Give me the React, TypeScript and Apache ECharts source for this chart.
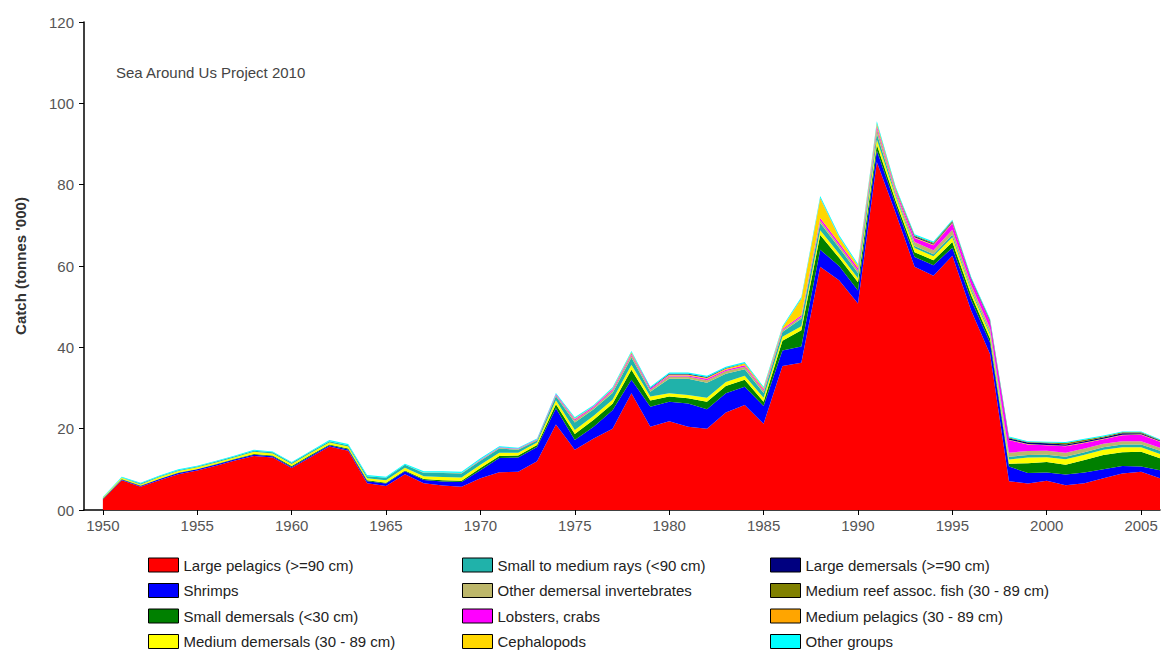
import React, { useEffect, useRef } from "react";
import * as echarts from "echarts";

const years: number[] = [];
for (let y = 1950; y <= 2006; y++) years.push(y);
const axisYears: string[] = ["1949", ...years.map(String)];

const xTickValues = [1950, 1955, 1960, 1965, 1970, 1975, 1980, 1985, 1990, 1995, 2000, 2005];

const largePelagics = [
  2.6, 7.3, 5.7, 7.3, 8.8, 9.7, 10.9, 12.2, 13.3, 12.9,
  10.3, 13.0, 15.6, 14.6, 6.6, 5.9, 8.8, 6.6, 6.0, 5.7,
  7.8, 9.3, 9.4, 12.0, 21.0, 14.8, 17.6, 20.0, 28.7, 20.5,
  21.8, 20.5, 20.0, 24.0, 25.8, 21.2, 35.4, 36.2, 59.8, 56.5,
  50.8, 85.6, 73.0, 59.8, 57.6, 62.5, 49.0, 38.3, 7.1, 6.5,
  7.2, 6.1, 6.6, 7.8, 9.0, 9.4, 7.8,
];
const shrimps = [
  0.1, 0.2, 0.2, 0.3, 0.3, 0.3, 0.3, 0.3, 0.3, 0.3,
  0.3, 0.3, 0.3, 0.3, 0.5, 0.6, 0.7, 0.8, 1.0, 1.2,
  2.0, 3.5, 3.5, 3.5, 4.0, 2.4, 2.9, 4.5, 3.3, 4.9,
  4.8, 5.7, 4.8, 4.7, 4.5, 4.4, 3.8, 4.0, 4.2, 3.5,
  3.2, 2.8, 2.0, 2.4, 2.6, 2.0, 2.6, 2.8, 3.6, 2.6,
  2.0, 2.6, 2.6, 2.2, 1.8, 1.3, 2.0,
];
const smallDemersals = [
  0.1, 0.1, 0.1, 0.1, 0.1, 0.1, 0.1, 0.1, 0.2, 0.2,
  0.2, 0.2, 0.2, 0.2, 0.2, 0.2, 0.2, 0.2, 0.3, 0.3,
  0.5, 0.5, 0.5, 0.5, 1.0, 1.5, 1.7, 1.6, 2.5, 1.5,
  1.3, 1.3, 1.8, 1.8, 1.7, 1.0, 2.4, 4.0, 3.6, 2.0,
  2.0, 1.4, 1.0, 1.2, 1.2, 1.4, 1.2, 1.0, 0.7, 2.4,
  2.6, 2.4, 3.1, 3.5, 3.4, 3.6, 2.9,
];
const mediumDemersals = [
  0.2, 0.3, 0.3, 0.4, 0.4, 0.4, 0.4, 0.4, 0.5, 0.5,
  0.5, 0.5, 0.5, 0.5, 0.5, 0.6, 0.7, 0.7, 0.8, 0.8,
  0.8, 0.8, 0.7, 0.6, 1.0, 1.0, 1.0, 1.0, 1.2, 1.0,
  0.8, 0.8, 1.0, 1.0, 1.0, 1.0, 1.0, 1.0, 1.2, 1.0,
  1.0, 1.3, 1.0, 1.0, 1.0, 1.2, 1.0, 1.0, 1.0, 1.4,
  1.2, 1.4, 1.3, 1.3, 1.2, 1.1, 1.1,
];
const smallMediumRays = [
  0.1, 0.1, 0.2, 0.2, 0.2, 0.2, 0.2, 0.2, 0.3, 0.3,
  0.3, 0.3, 0.3, 0.3, 0.5, 0.6, 0.7, 0.8, 1.0, 1.0,
  1.0, 1.0, 0.7, 0.5, 1.0, 1.8, 1.6, 1.7, 1.8, 1.2,
  3.6, 4.0, 3.7, 2.0, 1.6, 1.2, 1.2, 1.8, 1.8, 1.5,
  1.3, 1.5, 0.5, 0.5, 0.5, 0.6, 0.5, 0.5, 0.7, 0.6,
  0.6, 0.6, 0.6, 0.6, 0.7, 0.7, 0.8,
];
const otherDemersalInvertebrates = [
  0, 0, 0, 0, 0, 0, 0, 0, 0, 0,
  0, 0, 0, 0, 0, 0, 0, 0.1, 0.1, 0.1,
  0.2, 0.2, 0.2, 0.2, 0.3, 0.5, 0.4, 0.5, 0.6, 0.5,
  0.5, 0.5, 0.6, 0.7, 0.6, 0.5, 0.4, 0.5, 0.6, 0.6,
  0.6, 1.2, 0.6, 1.0, 1.0, 1.2, 1.0, 1.0, 1.0, 1.0,
  1.0, 1.0, 0.9, 0.9, 0.8, 0.8, 0.7,
];
const lobstersCrabs = [
  0, 0, 0, 0, 0, 0, 0, 0, 0, 0,
  0, 0, 0, 0, 0, 0, 0, 0, 0, 0,
  0.1, 0.1, 0.1, 0.1, 0.2, 0.3, 0.3, 0.4, 0.4, 0.3,
  0.3, 0.3, 0.4, 0.3, 0.4, 0.4, 0.3, 0.4, 0.6, 0.6,
  0.6, 0.6, 0.5, 1.0, 1.2, 1.6, 1.3, 1.6, 3.1, 1.6,
  1.3, 1.6, 1.4, 1.1, 1.5, 1.6, 1.5,
];
const cephalopods = [
  0, 0, 0, 0, 0, 0, 0, 0, 0, 0,
  0, 0, 0, 0, 0, 0, 0, 0, 0, 0,
  0, 0, 0, 0, 0, 0.2, 0.1, 0.2, 0.3, 0,
  0.2, 0.2, 0.2, 0.3, 0.4, 0.3, 0.4, 3.8, 4.6, 1.3,
  0.6, 0.5, 0.3, 0.2, 0.2, 0.2, 0.1, 0.1, 0.1, 0.1,
  0.1, 0.1, 0.1, 0.1, 0.1, 0.1, 0.1,
];
const largeDemersals = [
  0, 0, 0, 0, 0, 0, 0, 0, 0, 0,
  0, 0, 0, 0, 0, 0, 0, 0, 0, 0,
  0, 0, 0, 0, 0, 0, 0, 0, 0, 0.1,
  0.2, 0.2, 0.2, 0.1, 0.1, 0, 0, 0, 0, 0,
  0, 0, 0, 0.2, 0.2, 0.2, 0.2, 0.2, 0.3, 0.4,
  0.4, 0.3, 0.3, 0.3, 0.4, 0.3, 0.2,
];
const mediumReefFish = [
  0, 0, 0, 0, 0, 0, 0, 0, 0, 0,
  0, 0, 0, 0, 0, 0, 0, 0, 0, 0,
  0, 0, 0, 0, 0, 0, 0, 0, 0, 0,
  0, 0, 0, 0, 0, 0, 0, 0, 0, 0,
  0, 0.2, 0.2, 0.2, 0.2, 0.2, 0.1, 0.2, 0.2, 0.1,
  0.2, 0.4, 0.4, 0.3, 0.2, 0.2, 0.1,
];
const mediumPelagics = [
  0, 0, 0, 0, 0, 0, 0, 0, 0, 0,
  0, 0, 0, 0, 0, 0, 0, 0, 0, 0,
  0, 0, 0, 0, 0, 0, 0, 0, 0, 0,
  0, 0, 0, 0, 0, 0, 0, 0.3, 0.3, 0.2,
  0, 0, 0, 0, 0, 0, 0, 0, 0, 0,
  0, 0, 0, 0, 0, 0, 0,
];
const otherGroups = [
  0.1, 0.2, 0.2, 0.2, 0.2, 0.2, 0.2, 0.2, 0.2, 0.2,
  0.2, 0.2, 0.3, 0.3, 0.3, 0.3, 0.3, 0.3, 0.3, 0.3,
  0.3, 0.3, 0.2, 0.2, 0.3, 0.3, 0.2, 0.3, 0.3, 0.3,
  0.3, 0.3, 0.3, 0.3, 0.3, 0.3, 0.3, 0.4, 0.5, 0.4,
  0.4, 0.5, 0.4, 0.3, 0.3, 0.3, 0.3, 0.3, 0.3, 0.2,
  0.2, 0.2, 0.2, 0.2, 0.2, 0.2, 0.2,
];

const seriesDefs = [
  { name: "Large pelagics (>=90 cm)", color: "#ff0000", data: largePelagics },
  { name: "Shrimps", color: "#0000ff", data: shrimps },
  { name: "Small demersals (<30 cm)", color: "#008000", data: smallDemersals },
  { name: "Medium demersals (30 - 89 cm)", color: "#ffff00", data: mediumDemersals },
  { name: "Small to medium rays (<90 cm)", color: "#20b2aa", data: smallMediumRays },
  { name: "Other demersal invertebrates", color: "#bdb76b", data: otherDemersalInvertebrates },
  { name: "Lobsters, crabs", color: "#ff00ff", data: lobstersCrabs },
  { name: "Cephalopods", color: "#ffd700", data: cephalopods },
  { name: "Large demersals (>=90 cm)", color: "#000080", data: largeDemersals },
  { name: "Medium reef assoc. fish (30 - 89 cm)", color: "#808000", data: mediumReefFish },
  { name: "Medium pelagics (30 - 89 cm)", color: "#ffa500", data: mediumPelagics },
  { name: "Other groups", color: "#00ffff", data: otherGroups },
];

const FONT = "'Liberation Sans', Arial, sans-serif";

export default function App() {
  const ref = useRef<HTMLDivElement>(null);
  useEffect(() => {
    if (!ref.current) return;
    const chart = echarts.init(ref.current, undefined, { renderer: "svg" });
    const legendBase = {
      type: "plain",
      orient: "vertical" as const,
      top: 557.5,
      height: 130,
      padding: 0,
      itemWidth: 30,
      itemHeight: 14,
      itemGap: 10.5,
      icon: "rect",
      itemStyle: { borderColor: "#000", borderWidth: 1 },
      textStyle: { fontSize: 15, color: "#222", fontFamily: FONT },
      selectedMode: false,
    };
    const names = seriesDefs.map((s) => s.name);
    const showYear = (_i: number, v: string) => xTickValues.indexOf(Number(v)) >= 0;
    chart.setOption({
      animation: false,
      textStyle: { fontFamily: FONT },
      title: {
        text: "Sea Around Us Project 2010",
        left: 111,
        top: 60,
        textStyle: { fontSize: 15, fontWeight: "normal", color: "#444", fontFamily: FONT },
      },
      grid: { left: 84, right: 4, top: 22, bottom: 142 },
      legend: [
        { ...legendBase, left: 148, data: names.slice(0, 4) },
        { ...legendBase, left: 462, data: names.slice(4, 8) },
        { ...legendBase, left: 770, data: names.slice(8, 12) },
      ],
      xAxis: {
        type: "category",
        boundaryGap: false,
        data: axisYears,
        axisLine: { show: true, lineStyle: { color: "#000", width: 1.5 } },
        axisTick: { show: true, interval: showYear, length: 5, lineStyle: { color: "#000" } },
        axisLabel: {
          interval: showYear,
          fontSize: 15,
          color: "#555",
          margin: 8,
          fontFamily: FONT,
        },
        splitLine: { show: false },
      },
      yAxis: {
        type: "value",
        min: 0,
        max: 120,
        interval: 20,
        name: "Catch (tonnes '000)",
        nameLocation: "middle",
        nameRotate: 90,
        nameGap: 56,
        nameTextStyle: { fontSize: 15, fontWeight: "bold", color: "#333", fontFamily: FONT },
        axisLine: { show: true, lineStyle: { color: "#000", width: 1.5 } },
        axisTick: { show: true, length: 5, lineStyle: { color: "#000" } },
        axisLabel: {
          formatter: (v: number) => (v === 0 ? "00" : String(v)),
          fontSize: 15,
          color: "#555",
          margin: 10,
          fontFamily: FONT,
        },
        splitLine: { show: false },
      },
      series: seriesDefs.map((s) => ({
        name: s.name,
        type: "line",
        stack: "total",
        showSymbol: false,
        symbol: "none",
        color: s.color,
        lineStyle: { width: 0, color: s.color },
        itemStyle: { color: s.color },
        areaStyle: { color: s.color, opacity: 1 },
        data: [null, ...s.data],
      })),
    });
    return () => chart.dispose();
  }, []);
  return (
    <div
      ref={ref}
      style={{ position: "fixed", left: 0, top: 0, width: 1164, height: 652, background: "#fff" }}
    />
  );
}
